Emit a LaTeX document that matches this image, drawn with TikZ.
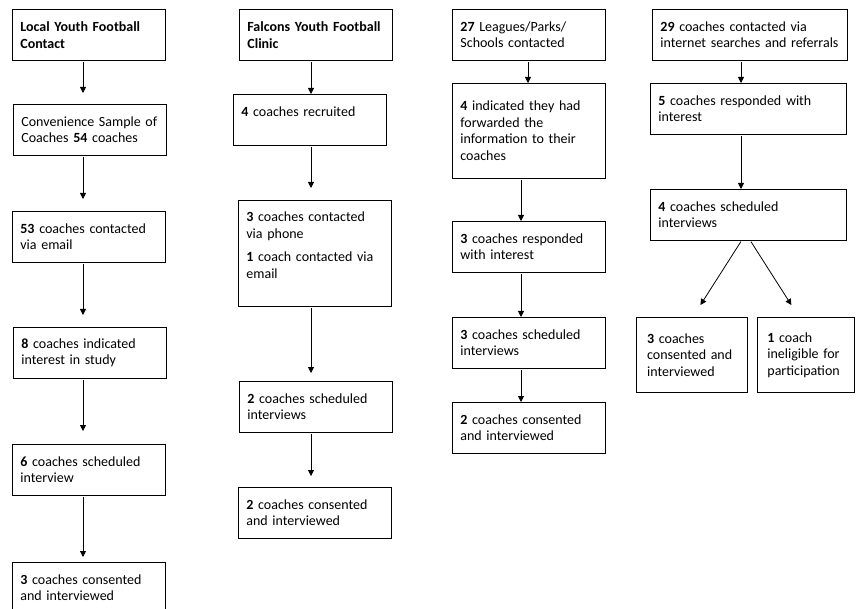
\documentclass[tikz,border=0pt]{standalone}
\usepackage{fontspec}
\setmainfont{Carlito}
\usetikzlibrary{arrows.meta}
\usetikzlibrary{calc}

\begin{document}
\begin{tikzpicture}[x=0.75pt, y=-0.75pt,
    box/.style={draw, line width=0.6pt, anchor=north west, align=left,
                text width=#1, inner xsep=6pt, inner ysep=2pt,
                minimum height=38.25pt, font=\fontsize{10.5}{12.4}\selectfont},
    box/.default=102.75pt,
    arr/.style={-{Triangle[length=4.5pt,width=4.5pt]}, line width=0.6pt, shorten <=0.75pt}]
            \useasboundingbox (0,0) rectangle (856,609);
            % Local Youth Football
            \node[box] (B1) at (12,9)   {\textbf{Local Youth Football}\\\textbf{Contact}};
            \node[box] (B2) at (13,104) {Convenience Sample of\\Coaches \textbf{54} coaches};
            \node[box] (B3) at (12,211) {\textbf{53} coaches contacted\\via email};
            \node[box] (B4) at (13,327) {\textbf{8} coaches indicated\\interest in study};
            \node[box] (B5) at (12,444) {\textbf{6} coaches scheduled\\interview};
            \node[box] (B6) at (12,562) {\textbf{3} coaches consented\\and interviewed};
            % Falcons clinic
            \node[box] (C1) at (239,9)   {\textbf{Falcons Youth Football}\\\textbf{Clinic}};
            \node[box] (C2) at (233,94)  {\textbf{4} coaches recruited\\~};
            \node[box, minimum height=79.5pt] (C3) at (238,200)
                 {\textbf{3} coaches contacted\\via phone\\[5pt]\textbf{1} coach contacted via\\email\\~};
            \node[box] (C4) at (239,381) {\textbf{2} coaches scheduled\\interviews};
            \node[box] (C5) at (238,487) {\textbf{2} coaches consented\\and interviewed};
            % Leagues / parks / schools
            \node[box] (D1) at (452,9)   {\textbf{27} Leagues/Parks/\\Schools contacted};
            \node[box, minimum height=71.25pt] (D2) at (452,83)
                 {\textbf{4} indicated they had\\forwarded the\\information to their\\coaches};
            \node[box] (D3) at (452,221) {\textbf{3} coaches responded\\with interest};
            \node[box] (D4) at (452,317) {\textbf{3} coaches scheduled\\interviews};
            \node[box] (D5) at (452,402) {\textbf{2} coaches consented\\and interviewed};
            % Internet searches
            \node[box=134.25pt] (E1) at (652,9)   {\textbf{29} coaches contacted via\\internet searches and referrals};
            \node[box=135pt]    (E2) at (650,83)  {\textbf{5} coaches responded with\\interest};
            \node[box=135pt]    (E3) at (650,189) {\textbf{4} coaches scheduled\\interviews};
            \node[box=67.25pt, inner xsep=8pt, minimum height=56.25pt] (E4) at (636,317)
                 {\textbf{3} coaches\\consented and\\interviewed};
            \node[box=57.75pt, inner xsep=7.5pt, minimum height=56.25pt] (E5) at (757,317)
                 {\textbf{1} coach\\ineligible for\\participation};
            % Arrow columns
            \coordinate (x1) at (83,0);
            \coordinate (x2) at (311,0);
            \coordinate (x3) at (528,0);
            \coordinate (x4) at (521,0);
            \coordinate (x5) at (741,0);
            \draw[arr, shorten >=8.25pt] (B1.south -| x1) -- (B2.north -| x1);
            \draw[arr, shorten >=9pt]    (B2.south -| x1) -- (B3.north -| x1);
            \draw[arr, shorten >=9pt]    (B3.south -| x1) -- (B4.north -| x1);
            \draw[arr, shorten >=9.75pt] (B4.south -| x1) -- (B5.north -| x1);
            \draw[arr, shorten >=3.75pt] (B5.south -| x1) -- (B6.north -| x1);
            \draw[arr]                   (C1.south -| x2) -- (C2.north -| x2);
            \draw[arr, shorten >=9pt]    (C2.south -| x2) -- (C3.north -| x2);
            \draw[arr, shorten >=6pt]    (C3.south -| x2) -- (C4.north -| x2);
            \draw[arr, shorten >=8.25pt] (C4.south -| x2) -- (C5.north -| x2);
            \draw[arr] (D1.south -| x3) -- (D2.north -| x3);
            \draw[arr] (D2.south -| x4) -- (D3.north -| x4);
            \draw[arr] (D3.south -| x4) -- (D4.north -| x4);
            \draw[arr] (D4.south -| x4) -- (D5.north -| x4);
            \draw[arr] (E1.south -| x5) -- (E2.north -| x5);
            \draw[arr] (E2.south -| x5) -- (E3.north -| x5);
            \draw[arr] ([xshift=-5.25pt]E3.south) -- ([xshift=6.4pt,yshift=9pt]E4.north);
            \draw[arr] ([xshift=1.5pt]E3.south)   -- ([xshift=-10.9pt,yshift=9pt]E5.north);
\end{tikzpicture}
\end{document}
